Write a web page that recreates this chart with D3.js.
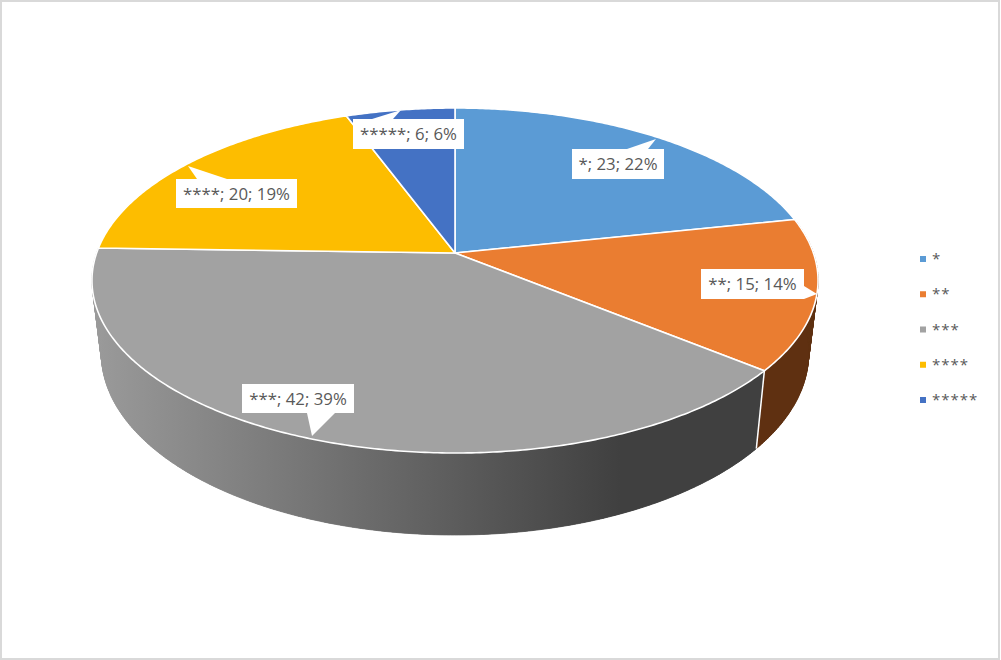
<!DOCTYPE html>
<html>
<head>
<meta charset="utf-8">
<script src="https://cdn.jsdelivr.net/npm/d3@7"></script>
<style>
  html, body { margin: 0; padding: 0; background: #fff; }
  svg { display: block; }
  text { font-family: "Open Sans", sans-serif; fill: #595959; }
</style>
</head>
<body>
<div id="chart"></div>
<script>
const categories = ["*", "**", "***", "****", "*****"];
const values = [23, 15, 42, 20, 6];
const percents = [22, 14, 39, 19, 6];
const colors = ["#5b9bd5", "#ea7d31", "#a2a2a2", "#fdbd00", "#4472c4"];

const w = 1001, h = 660;

// the pie is seen in perspective, so the centre sits above the middle of the ellipse
const apex = { x: 455, y: 253 };
const persp = -0.1594, ky = 127.8, kx = 358.4;
// bottom rim compared to the top rim
const base = { sx: 0.974, sy: 1.05, dy: 72 };

function topRim(a) {
  const u = Math.sin(a), v = -Math.cos(a);
  const d = 1 + persp * v;
  return [apex.x + kx * u / d, (apex.y + ky * v) / d];
}
function bottomRim(a) {
  const p = topRim(a);
  return [apex.x + base.sx * (p[0] - apex.x), apex.y + base.dy + base.sy * (p[1] - apex.y)];
}
function arcAngles(a0, a1) {
  const n = Math.max(2, Math.ceil((a1 - a0) / 0.01));
  return d3.range(n + 1).map(i => a0 + (a1 - a0) * i / n);
}

const svg = d3.select("#chart").append("svg").attr("width", w).attr("height", h);

svg.append("rect")
   .attr("x", 1).attr("y", 1)
   .attr("width", w - 3).attr("height", h - 2)
   .attr("fill", "#fff").attr("stroke", "#d9d9d9").attr("stroke-width", 2);

const grad = svg.append("defs").append("linearGradient")
   .attr("id", "wallGray")
   .attr("gradientUnits", "userSpaceOnUse")
   .attr("x1", 95).attr("y1", 0).attr("x2", 620).attr("y2", 0);
grad.append("stop").attr("offset", "0%").attr("stop-color", "#9a9a9a");
grad.append("stop").attr("offset", "100%").attr("stop-color", "#404040");

const wallFill = { "**": "#5f3011", "***": "url(#wallGray)" };

const arcs = d3.pie().value((d, i) => values[i]).sort(null)(categories);
const line = d3.line();

// side walls: thin strips keep the outline tangent to both rims, one solid shape on top hides the seams
const walls = svg.append("g");
arcs.filter(d => wallFill[d.data]).forEach(d => {
  const angles = arcAngles(d.startAngle, d.endAngle);
  walls.append("g")
     .attr("fill", wallFill[d.data])
     .attr("stroke", wallFill[d.data])
     .attr("stroke-width", 0.7)
     .selectAll("path")
     .data(d3.pairs(angles))
     .join("path")
     .attr("d", p => line([topRim(p[0]), topRim(p[1]), bottomRim(p[1]), bottomRim(p[0])]) + "Z");
  walls.append("path")
     .attr("fill", wallFill[d.data])
     .attr("d", line(angles.map(topRim).concat(angles.slice().reverse().map(bottomRim))) + "Z");
});

walls.append("path")
   .datum(arcs[1].endAngle)
   .attr("d", a => line([topRim(a), bottomRim(a)]))
   .attr("stroke", "#fff").attr("stroke-width", 1.5).attr("fill", "none");

// top face
svg.append("g").selectAll("path")
   .data(arcs)
   .join("path")
   .attr("d", d => line([[apex.x, apex.y]].concat(arcAngles(d.startAngle, d.endAngle).map(topRim))) + "Z")
   .attr("fill", (d, i) => colors[i])
   .attr("stroke", "#fff")
   .attr("stroke-width", 1.6)
   .attr("stroke-linejoin", "round");

// data label callouts: box plus the little pointer
const labelBoxes = [
  { x: 572, y: 149, w: 92, h: 30, tail: [[627, 149], [656, 139], [648, 149]] },
  { x: 701, y: 269, w: 103, h: 30, tail: [[804, 286], [817, 294], [804, 299]] },
  { x: 242, y: 384, w: 112, h: 29, tail: [[307, 413], [312, 436], [335, 413]] },
  { x: 176, y: 179, w: 121, h: 29, tail: [[197, 179], [188, 166], [227, 179]] },
  { x: 353, y: 119, w: 111, h: 30, tail: [[372, 119], [401, 110], [393, 119]] }
];

const labels = svg.append("g").selectAll("g")
   .data(categories)
   .join("g");

labels.append("path")
   .attr("d", (d, i) => line(labelBoxes[i].tail) + "Z")
   .attr("fill", "#fff");
labels.append("rect")
   .attr("x", (d, i) => labelBoxes[i].x)
   .attr("y", (d, i) => labelBoxes[i].y)
   .attr("width", (d, i) => labelBoxes[i].w)
   .attr("height", (d, i) => labelBoxes[i].h)
   .attr("fill", "#fff");
labels.append("text")
   .attr("x", (d, i) => labelBoxes[i].x + labelBoxes[i].w / 2)
   .attr("y", (d, i) => labelBoxes[i].y + labelBoxes[i].h / 2 + 6)
   .attr("text-anchor", "middle")
   .attr("font-size", 16.8)
   .text((d, i) => `${d}; ${values[i]}; ${percents[i]}%`);

// legend
const legendY = d3.scalePoint().domain(categories).range([259, 400]);
const legend = svg.append("g").selectAll("g")
   .data(categories)
   .join("g")
   .attr("transform", d => `translate(0,${legendY(d)})`);

legend.append("rect")
   .attr("x", 920).attr("y", -3)
   .attr("width", 6).attr("height", 6)
   .attr("fill", (d, i) => colors[i]);
legend.append("text")
   .attr("x", 932).attr("y", 5)
   .attr("font-size", 15)
   .attr("letter-spacing", 1)
   .text(d => d);
</script>
</body>
</html>
